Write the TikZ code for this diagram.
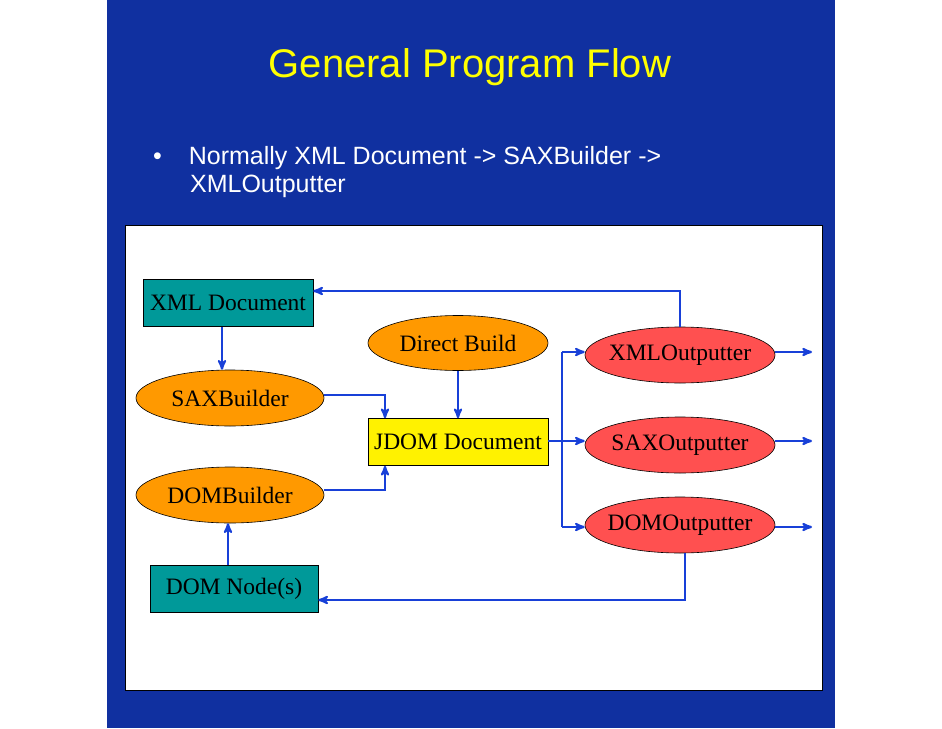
\documentclass[tikz,border=0pt]{standalone}
\usepackage{fontspec}
\newfontfamily\slidefont{Liberation Sans}
\setmainfont{Liberation Serif}
\usetikzlibrary{arrows,positioning,shapes.geometric}
\definecolor{slideblue}{RGB}{16,48,160}
\definecolor{titleyellow}{RGB}{255,255,0}
\definecolor{arrowblue}{RGB}{24,64,216}
\definecolor{docteal}{RGB}{0,153,153}
\definecolor{buildorange}{RGB}{255,153,0}
\definecolor{outred}{RGB}{255,80,80}
\begin{document}
\begin{tikzpicture}[x=1pt,y=-1pt,->,>=stealth',line width=2.2pt,
                    font=\fontsize{23.5}{26}\selectfont,
                    doc/.style={draw=black,line width=0.6pt,fill=docteal,minimum height=47pt,inner sep=1pt},
                    build/.style={ellipse,draw=black,line width=0.6pt,fill=buildorange,minimum width=188pt,minimum height=56pt,inner xsep=-14pt,inner ysep=0pt},
                    outp/.style={ellipse,draw=black,line width=0.6pt,fill=outred,minimum width=190pt,minimum height=56pt,inner xsep=-14pt,inner ysep=0pt},
                    flow/.style={draw=arrowblue}]

  \useasboundingbox (0,0) rectangle (942,728);
  \fill[white] (0,0) rectangle (942,728);
  \fill[slideblue] (107,0) rectangle (835,728);
  \fill[white,draw=black,line width=0.6pt] (125,225) rectangle (822,690);

  \node[text=titleyellow,font=\slidefont\fontsize{40}{44}\selectfont] (title) at (470,67) {General Program Flow};
  \node[text=white,font=\slidefont\fontsize{25}{28}\selectfont,anchor=north west,align=left,inner sep=0pt] (bullet) at (152,145)
       {\textbullet\hspace{27pt}Normally XML Document -> SAXBuilder ->\\\hspace{37pt}XMLOutputter};

  \node[doc,minimum width=170pt] (xmldoc) at (228,303) {XML Document};
  \node[build] (sax) at (230,398) {SAXBuilder};
  \node[build] (dom) at (230,495) {DOMBuilder};
  \node[doc,minimum width=168pt] (domnode) at (234,589) {DOM Node(s)};
  \node[build,minimum width=180pt,minimum height=55pt] (direct) at (458,343) {Direct Build};
  \node[doc,fill=yellow,minimum width=180pt] (jdom) at (458,442) {JDOM Document};
  \node[outp] (xmlout) at (680,355) {XMLOutputter};
  \node[outp] (saxout) at (680,445) {SAXOutputter};
  \node[outp] (domout) at (680,525) {DOMOutputter};

  \coordinate (xmlend) at (812,352);
  \coordinate (saxend) at (812,441);
  \coordinate (domend) at (812,527);
  \coordinate (split) at (562,441);

  \draw[flow] (xmlout.north) |- (xmldoc.east |- 0,291);
  \draw[flow] (xmldoc.south -| 222,0) -- (sax.north -| 222,0);
  \draw[flow] (sax.east |- 0,395) -| (jdom.north -| 385,0);
  \draw[flow] (dom.east |- 0,490) -| (jdom.south -| 385,0);
  \draw[flow] (direct) -- (jdom);
  \draw[flow] (domnode.north -| 228,0) -- (dom.south -| 228,0);
  \draw[flow] (domout.south -| 685,0) |- (domnode.east |- 0,600);
  \draw[flow] (jdom.east |- split) -- (saxout.west |- split);
  \draw[flow,-] (split |- 0,352) -- (split |- 0,527);
  \draw[flow] (split |- 0,352) -- (xmlout.west |- 0,352);
  \draw[flow] (split |- 0,527) -- (domout.west |- 0,527);
  \draw[flow] (xmlout.east |- xmlend) -- (xmlend);
  \draw[flow] (saxout.east |- saxend) -- (saxend);
  \draw[flow] (domout.east |- domend) -- (domend);
\end{tikzpicture}
\end{document}
